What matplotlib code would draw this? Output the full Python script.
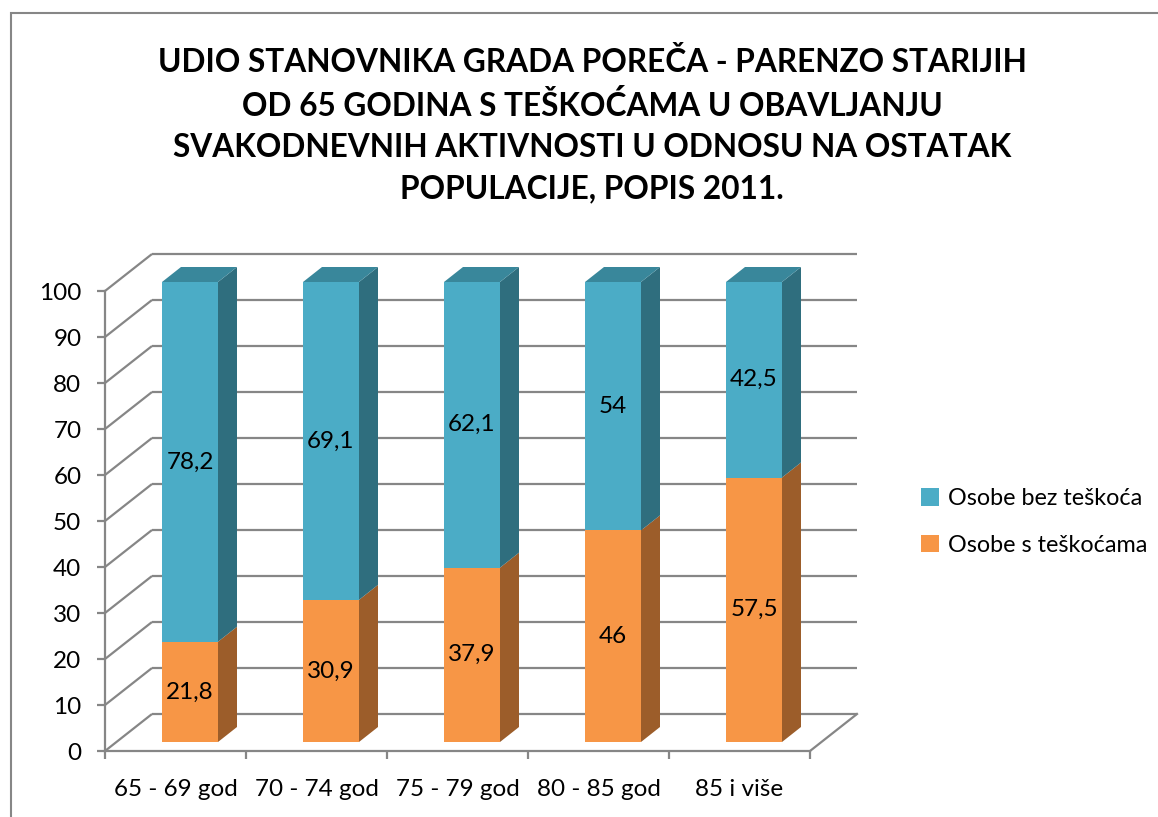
import matplotlib
matplotlib.use('Agg')
import matplotlib.pyplot as plt
from matplotlib.patches import Polygon, Rectangle, Patch

# data
categories = ['65 - 69 god', '70 - 74 god', '75 - 79 god', '80 - 85 god', '85 i više']
s_teskocama = [21.8, 30.9, 37.9, 46, 57.5]
bez_teskoca = [78.2, 69.1, 62.1, 54, 42.5]
series_names = ['Osobe bez teškoća', 'Osobe s teškoćama']
yticks = list(range(0, 101, 10))

title = ('UDIO STANOVNIKA GRADA POREČA - PARENZO STARIJIH\n'
         'OD 65 GODINA S TEŠKOĆAMA U OBAVLJANJU\n'
         'SVAKODNEVNIH AKTIVNOSTI U ODNOSU NA OSTATAK\n'
         'POPULACIJE, POPIS 2011.')

plt.rcParams['font.family'] = ['Lato', 'DejaVu Sans']

BLUE, BLUE_SIDE, BLUE_TOP = '#4BACC6', '#2F6E7E', '#39879B'
ORANGE, ORANGE_SIDE, ORANGE_TOP = '#F79646', '#9C5D2A', '#C27434'
GRID = '#868686'
FS = 17.5

W, H = 1158, 817
fig = plt.figure(figsize=(W / 100, H / 100), dpi=100)

# front plane pixel anchors -> axes placement
px_x0, px_x5 = 105, 810
px_y0, px_y100 = 751, 291
xlim = (-0.3, 5.6)
ylim = (-12, 112)
sx = (px_x5 - px_x0) / 5
sy = (px_y0 - px_y100) / 100
left = px_x0 + xlim[0] * sx
right = px_x0 + xlim[1] * sx
top = px_y0 - ylim[1] * sy
bottom = px_y0 - ylim[0] * sy
ax = fig.add_axes([left / W, 1 - bottom / H, (right - left) / W, (bottom - top) / H])
ax.set_xlim(*xlim)
ax.set_ylim(*ylim)

# oblique depth of the back wall and of the bars
DX, DY = 47 / sx, 37 / sy
bx, bw, base = 57 / sx, 56 / sx, 9 / sy
bdx, bdy = 19 / sx, 15 / sy

n = len(categories)

# back wall grid + left side wall
for v in yticks:
    ax.plot([0, DX], [v, v + DY], color=GRID, lw=1.6, zorder=1, solid_capstyle='butt')
    ax.plot([DX, n + DX], [v + DY, v + DY], color=GRID, lw=1.6, zorder=1, solid_capstyle='butt')
ax.plot([n, n + DX], [0, DY], color=GRID, lw=1.6, zorder=1)


def box(x0, b, t, front, side, topc, with_top):
    y0, y1 = b + base, t + base
    ax.add_patch(Rectangle((x0, y0), bw, y1 - y0, facecolor=front, edgecolor='none', zorder=3))
    ax.add_patch(Polygon([(x0 + bw, y0), (x0 + bw + bdx, y0 + bdy),
                          (x0 + bw + bdx, y1 + bdy), (x0 + bw, y1)],
                         closed=True, facecolor=side, edgecolor='none', zorder=3))
    if with_top:
        ax.add_patch(Polygon([(x0, y1), (x0 + bw, y1), (x0 + bw + bdx, y1 + bdy), (x0 + bdx, y1 + bdy)],
                             closed=True, facecolor=topc, edgecolor='none', zorder=3))


def fmt(v):
    return f'{v:g}'.replace('.', ',')


for i in range(n):
    x0 = i + bx
    o = s_teskocama[i]
    b_ = bez_teskoca[i]
    box(x0, 0, o, ORANGE, ORANGE_SIDE, ORANGE_TOP, False)
    box(x0, o, o + b_, BLUE, BLUE_SIDE, BLUE_TOP, True)
    ax.text(x0 + bw / 2, base + o / 2, fmt(o), ha='center', va='center', fontsize=FS, zorder=5)
    ax.text(x0 + bw / 2, base + o + b_ / 2, fmt(b_), ha='center', va='center', fontsize=FS, zorder=5)

# front axes
for s in ['top', 'right']:
    ax.spines[s].set_visible(False)
ax.spines['left'].set_position(('data', 0))
ax.spines['bottom'].set_position(('data', 0))
ax.spines['left'].set_bounds(0, 100)
ax.spines['bottom'].set_bounds(0, n)
for s in ['left', 'bottom']:
    ax.spines[s].set_color(GRID)
    ax.spines[s].set_linewidth(1.6)
    ax.spines[s].set_zorder(2)

ax.set_yticks(yticks)
ax.set_yticklabels([str(v) for v in yticks])
ax.set_xticks(range(n + 1))
ax.set_xticklabels([])
ax.set_xticks([i + 0.5 for i in range(n)], minor=True)
ax.set_xticklabels(categories, minor=True)
ax.tick_params(axis='y', length=6, width=1.6, color=GRID, pad=11, labelsize=FS)
ax.tick_params(axis='x', which='major', length=6, width=1.6, color=GRID)
ax.tick_params(axis='x', which='minor', length=0, pad=20, labelsize=FS)
ax.patch.set_visible(False)

fig.text(592 / W, 1 - 125 / H, title, ha='center', va='center', fontsize=22.8,
         fontweight='bold', linespacing=1.5)

handles = [Patch(facecolor=BLUE), Patch(facecolor=ORANGE)]
fig.legend(handles, series_names, loc='center left', bbox_to_anchor=(900 / W, 1 - 522 / H),
           frameon=False, fontsize=16.8, handlelength=0.75, handleheight=0.75,
           handletextpad=0.4, labelspacing=1.1)

fig.patches.append(Rectangle((11 / W, -0.05), 1.2, 1 - 13 / H + 0.05, transform=fig.transFigure,
                             fill=False, edgecolor=GRID, lw=1.5))

fig.savefig('out.png', dpi=100)
